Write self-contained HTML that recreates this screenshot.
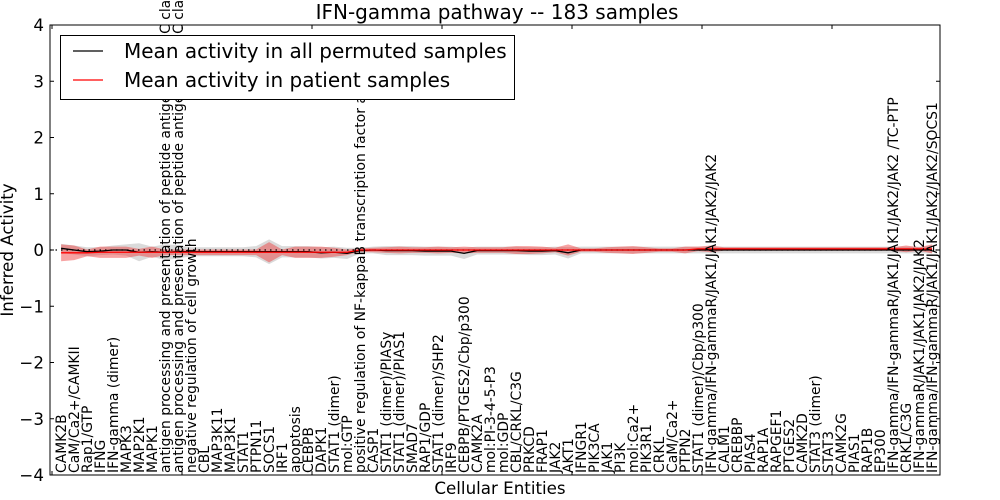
<!DOCTYPE html>
<html><head><meta charset="utf-8"><style>
html,body{margin:0;padding:0;background:#fff;}
svg{display:block;font-family:"DejaVu Sans","Liberation Sans",sans-serif;}
</style></head><body>
<svg id="chart" width="1000" height="500" viewBox="0 0 1000 500" style="position:absolute;left:0;top:0;">
<rect width="1000" height="500" fill="#fff"/>
<g id="bands"></g><g id="lines"></g><g id="xlabels"></g><g id="axes"></g>
<text x="497" y="19" text-anchor="middle" font-size="20px">IFN-gamma pathway -- 183 samples</text>
<text x="500" y="494" text-anchor="middle" font-size="16.7px">Cellular Entities</text>
<text transform="translate(13,250) rotate(-90)" text-anchor="middle" font-size="16.7px">Inferred Activity</text>
<g>
<rect x="60.5" y="35.5" width="454" height="64" fill="#fff" stroke="#000" stroke-width="1"/>
<line x1="73" x2="103" y1="51" y2="51" stroke="#000" stroke-width="1.3"/>
<text x="124" y="58" font-size="20px">Mean activity in all permuted samples</text>
<line x1="73" x2="103" y1="80" y2="80" stroke="#f00" stroke-width="1.3"/>
<text x="124" y="87" font-size="20px">Mean activity in patient samples</text>
</g>
</svg>
<script>
const categories=["CAMK2B","CaM/Ca2+/CAMKII","Rap1/GTP","IFNG","IFN-gamma (dimer)","MAPK3","MAP2K1","MAPK1",
"antigen processing and presentation of peptide antigen via MHC class I","antigen processing and presentation of peptide antigen via MHC class II",
"negative regulation of cell growth","CBL","MAP3K11","MAP3K1","STAT1","PTPN11","SOCS1","IRF1","apoptosis","CEBPB","DAPK1","STAT1 (dimer)","mol:GTP",
"positive regulation of NF-kappaB transcription factor activity","CASP1","STAT1 (dimer)/PIASy","STAT1 (dimer)/PIAS1","SMAD7","RAP1/GDP","STAT1 (dimer)/SHP2",
"IRF9","CEBPB/PTGES2/Cbp/p300","CAMK2A","mol:PI-3-4-5-P3","mol:GDP","CBL/CRKL/C3G","PRKCD","FRAP1","JAK2","AKT1","IFNGR1","PIK3CA","JAK1","PI3K",
"mol:Ca2+","PIK3R1","CRKL","CaM/Ca2+","PTPN2","STAT1 (dimer)/Cbp/p300","IFN-gamma/IFN-gammaR/JAK1/JAK1/JAK2/JAK2","CALM1","CREBBP","PIAS4","RAP1A",
"RAPGEF1","PTGES2","CAMK2D","STAT3 (dimer)","STAT3","CAMK2G","PIAS1","RAP1B","EP300","IFN-gamma/IFN-gammaR/JAK1/JAK1/JAK2/JAK2  /TC-PTP","CRKL/C3G",
"IFN-gammaR/JAK1/JAK1/JAK2/JAK2","IFN-gamma/IFN-gammaR/JAK1/JAK1/JAK2/JAK2/SOCS1"];
const permMean=[0.03,0.0,-0.03,-0.02,0.0,0.0,-0.04,-0.03,-0.04,-0.03,-0.03,-0.03,-0.03,-0.03,-0.03,-0.03,-0.03,-0.03,-0.03,-0.03,-0.05,-0.04,-0.06,-0.01,0.0,
-0.01,-0.01,-0.01,-0.02,-0.02,-0.02,-0.06,-0.01,-0.01,-0.01,-0.01,-0.02,-0.02,-0.01,-0.05,0.0,0.0,0.0,0.0,0.0,0.0,0.0,0.0,0.0,0.0,0.0,
0.0,0.0,0.0,0.0,0.0,0.0,0.0,0.0,0.0,0.0,0.0,0.0,0.0,0.0,0.0,0.0,0.0];
const permStd=[0.08,0.08,0.08,0.07,0.08,0.1,0.16,0.09,0.14,0.12,0.08,0.08,0.08,0.08,0.08,0.1,0.22,0.1,0.1,0.1,0.1,0.1,0.1,0.05,0.06,
0.08,0.08,0.08,0.08,0.08,0.08,0.1,0.07,0.07,0.07,0.07,0.07,0.07,0.07,0.1,0.06,0.06,0.06,0.06,0.06,0.06,0.06,0.06,0.06,0.06,0.06,
0.06,0.06,0.06,0.06,0.06,0.06,0.06,0.06,0.06,0.06,0.06,0.06,0.06,0.06,0.06,0.06,0.06];
const patMean=[-0.05,-0.05,-0.05,-0.04,-0.04,-0.04,-0.04,-0.04,-0.04,-0.04,-0.04,-0.04,-0.04,-0.04,-0.04,-0.04,-0.04,-0.04,-0.04,-0.04,-0.04,-0.04,-0.04,0.0,0.0,
0.0,0.0,0.0,0.0,0.0,0.0,0.0,0.0,0.0,0.0,0.0,0.0,0.0,0.0,0.0,0.0,0.0,0.0,0.0,0.0,0.0,0.0,0.0,0.0,0.02,0.02,
0.02,0.02,0.02,0.02,0.02,0.02,0.02,0.02,0.02,0.02,0.02,0.02,0.02,0.02,0.02,0.02,0.02];
const patStd=[0.15,0.13,0.06,0.1,0.1,0.1,0.06,0.1,0.05,0.05,0.05,0.05,0.05,0.05,0.05,0.05,0.18,0.05,0.1,0.1,0.1,0.08,0.05,0.03,0.04,
0.05,0.06,0.05,0.05,0.06,0.05,0.06,0.05,0.05,0.05,0.07,0.07,0.06,0.04,0.1,0.03,0.03,0.05,0.06,0.07,0.05,0.03,0.03,0.06,0.04,0.06,
0.03,0.03,0.03,0.03,0.03,0.03,0.03,0.03,0.03,0.03,0.03,0.03,0.03,0.03,0.06,0.03,0.08];
const yTicks=[-4,-3,-2,-1,0,1,2,3,4];
const xTicks=[0,10,20,30,40,50,60];

const NS="http://www.w3.org/2000/svg";
const L=50,R=940,T=25,B=475;
const xs=v=>52+v*13.0;
const xi=i=>xs(i+0.7);
const ys=v=>250-v*56.25;
function mk(tag,attrs,parent){const e=document.createElementNS(NS,tag);for(const k in attrs)e.setAttribute(k,attrs[k]);parent.appendChild(e);return e;}
const gB=document.getElementById('bands'),gL=document.getElementById('lines'),gX=document.getElementById('xlabels'),gA=document.getElementById('axes');
function band(m,s,fill,op,name){
  let up=m.map((v,i)=>xi(i)+','+ys(v+s[i])),dn=m.map((v,i)=>xi(i)+','+ys(v-s[i])).reverse();
  const p=mk('polygon',{points:up.concat(dn).join(' '),fill:fill,'fill-opacity':op},gB);
  
  
}
band(permMean,permStd,'#bbbbbb',0.55,'permuted-band');
band(patMean,patStd,'#ee3333',0.45,'patient-band');
const zl=mk('line',{x1:L,x2:R,y1:ys(0),y2:ys(0),stroke:'#000','stroke-dasharray':'1.5,4','stroke-width':1.2},gL);


function line(m,col,name){
  const p=mk('polyline',{points:m.map((v,i)=>xi(i)+','+ys(v)).join(' '),fill:'none',stroke:col,'stroke-width':1.3},gL);
  
  
}
line(permMean,'#000','permuted-mean-line');
line(patMean,'#ff0000','patient-mean-line');
categories.forEach((c,i)=>{
  const t=mk('text',{x:0,y:0,transform:`translate(${xi(i)+5},${B-2}) rotate(-90)`,'font-size':'13.9px',fill:'#000'},gX);
  t.textContent=c;
  
  
});
const fr=mk('rect',{x:L,y:T,width:R-L,height:B-T,fill:'none',stroke:'#000','stroke-width':1},gA);


yTicks.forEach(v=>{
  const y=ys(v);
  mk('line',{x1:L,x2:L+4,y1:y,y2:y,stroke:'#000'},gA);
  mk('line',{x1:R-4,x2:R,y1:y,y2:y,stroke:'#000'},gA);
  const t=mk('text',{x:L-6,y:y+6,'text-anchor':'end','font-size':'16.7px'},gA);
  t.textContent=v<0?'\u2212'+Math.abs(v):String(v);
  
  
});
xTicks.forEach(v=>{
  const x=xs(v);
  mk('line',{x1:x,x2:x,y1:T,y2:T+4,stroke:'#000'},gA);
  mk('line',{x1:x,x2:x,y1:B-4,y2:B,stroke:'#000'},gA);
});
</script>
</body></html>
